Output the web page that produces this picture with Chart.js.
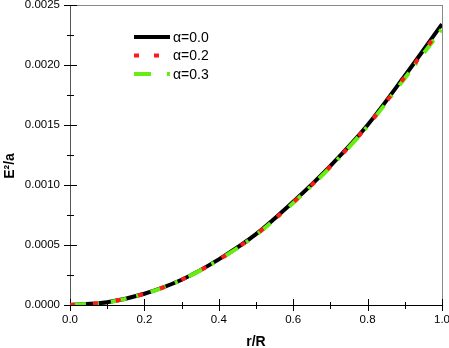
<!DOCTYPE html>
<html>
<head>
<meta charset="utf-8">
<script src="https://cdn.jsdelivr.net/npm/chart.js@4.4.0/dist/chart.umd.min.js"></script>
<style>
  html, body { margin: 0; padding: 0; background: #fff; }
  #wrap { width: 449px; height: 348px; }
</style>
</head>
<body>
<div id="wrap"><canvas id="c"></canvas></div>
<script>
// values
const rOverR = [0, 0.1, 0.2, 0.3, 0.4, 0.5, 0.6, 0.7, 0.8, 0.9, 1.0];
const alpha00 = [0, 0.000023, 0.000094, 0.00021, 0.00038, 0.00059, 0.00086, 0.00116, 0.00150, 0.00191, 0.00234];
const alpha02 = [0, 0.000023, 0.000094, 0.00021, 0.000378, 0.000587, 0.000855, 0.001155, 0.001495, 0.0019, 0.00232];
const alpha03 = [0, 0.000023, 0.000093, 0.00021, 0.000376, 0.000584, 0.00085, 0.00115, 0.00149, 0.00189, 0.0023];
const seriesLabels = ['\u03b1=0.0', '\u03b1=0.2', '\u03b1=0.3'];

const xMajor = [0, 0.2, 0.4, 0.6, 0.8, 1.0];
const xMinor = [0.1, 0.3, 0.5, 0.7, 0.9];
const yMajor = [0, 0.0005, 0.001, 0.0015, 0.002, 0.0025];
const yMinor = [0.00025, 0.00075, 0.00125, 0.00175, 0.00225];

const pts = ys => rOverR.map((x, i) => ({ x: x, y: ys[i] }));

// frame, crossing tick marks, axis titles
const framePlugin = {
    id: 'frame',
    beforeDatasetsDraw(chart) {
        const ctx = chart.ctx;
        const a = chart.chartArea;
        const xs = chart.scales.x, ys = chart.scales.y;
        ctx.save();
        ctx.lineWidth = 1;
        ctx.strokeStyle = '#888';
        ctx.strokeRect(a.left + 0.5, a.top + 0.5, a.right - a.left, a.bottom - a.top);
        ctx.strokeStyle = '#555';
        ctx.beginPath();
        ctx.moveTo(a.left + 0.5, a.top);
        ctx.lineTo(a.left + 0.5, a.bottom);
        ctx.stroke();
        ctx.strokeStyle = '#000';
        ctx.beginPath();
        ctx.moveTo(a.left, a.bottom + 0.5);
        ctx.lineTo(a.right + 1, a.bottom + 0.5);
        ctx.stroke();

        ctx.strokeStyle = '#000';
        ctx.beginPath();
        yMajor.forEach(v => {
            const p = Math.round(ys.getPixelForValue(v)) + 0.5;
            ctx.moveTo(a.left - 6, p); ctx.lineTo(a.left + 7, p);
        });
        yMinor.forEach(v => {
            const p = Math.round(ys.getPixelForValue(v)) + 0.5;
            ctx.moveTo(a.left - 3, p); ctx.lineTo(a.left + 4, p);
        });
        xMajor.forEach(v => {
            const p = Math.round(xs.getPixelForValue(v)) + 0.5;
            ctx.moveTo(p, a.bottom - 6); ctx.lineTo(p, a.bottom + 6);
        });
        xMinor.forEach(v => {
            const p = Math.round(xs.getPixelForValue(v)) + 0.5;
            ctx.moveTo(p, a.bottom - 3); ctx.lineTo(p, a.bottom + 4);
        });
        ctx.stroke();

        ctx.fillStyle = '#000';
        ctx.font = 'bold 14px "Liberation Sans", Arial, sans-serif';
        ctx.textAlign = 'center';
        ctx.textBaseline = 'middle';
        ctx.fillText('r/R', (a.left + a.right) / 2, 342);
        ctx.translate(10, 166);
        ctx.rotate(-Math.PI / 2);
        ctx.fillText('E\u00b2/a', 0, 0);
        ctx.restore();
    },
    afterDatasetsDraw(chart) {
        // legend inside the plot
        const ctx = chart.ctx;
        const rows = [37, 55.5, 74];
        ctx.save();
        chart.data.datasets.forEach((ds, i) => {
            ctx.strokeStyle = ds.borderColor;
            ctx.lineWidth = ds.borderWidth;
            ctx.setLineDash(ds.legendDash || []);
            ctx.beginPath();
            ctx.moveTo(134, rows[i]);
            ctx.lineTo(170, rows[i]);
            ctx.stroke();
            ctx.setLineDash([]);
            ctx.fillStyle = '#000';
            ctx.font = '14px "Liberation Sans", Arial, sans-serif';
            ctx.textAlign = 'left';
            ctx.textBaseline = 'middle';
            ctx.fillText(seriesLabels[i], 173, rows[i] + 1);
        });
        ctx.restore();
    }
};

new Chart(document.getElementById('c'), {
    type: 'line',
    data: {
        datasets: [
            {
                label: seriesLabels[0],
                data: pts(alpha00),
                borderColor: '#000000',
                borderWidth: 4,
                order: 3
            },
            {
                label: seriesLabels[1],
                data: pts(alpha02),
                borderColor: '#ff1a1a',
                borderWidth: 4,
                borderDash: [5, 18],
                legendDash: [5, 15],
                order: 1
            },
            {
                label: seriesLabels[2],
                data: pts(alpha03),
                borderColor: '#66ee11',
                borderWidth: 4,
                borderDash: [16, 10, 3, 12],
                legendDash: [17, 16, 3, 16],
                order: 2
            }
        ]
    },
    options: {
        responsive: true,
        maintainAspectRatio: false,
        animation: false,
        layout: { padding: { top: 5, right: 7, left: 0, bottom: 0 } },
        elements: {
            point: { radius: 0 },
            line: { cubicInterpolationMode: 'monotone', fill: false }
        },
        plugins: {
            legend: { display: false },
            tooltip: { enabled: false }
        },
        scales: {
            x: {
                type: 'linear',
                min: 0,
                max: 1,
                afterFit: s => { s.height = 43; s.paddingRight = 0; s.paddingLeft = 0; },
                afterBuildTicks: s => { s.ticks = xMajor.map(v => ({ value: v })); },
                grid: { display: false, drawTicks: false },
                border: { display: false },
                ticks: {
                    padding: 8,
                    color: '#000',
                    font: { family: '"Liberation Sans", Arial, sans-serif', size: 11.5 },
                    callback: v => v.toFixed(1)
                }
            },
            y: {
                min: 0,
                max: 0.0025,
                afterFit: s => { s.width = 70; s.paddingTop = 0; s.paddingBottom = 0; },
                afterBuildTicks: s => { s.ticks = yMajor.map(v => ({ value: v })); },
                grid: { display: false, drawTicks: false },
                border: { display: false },
                ticks: {
                    padding: 10,
                    color: '#000',
                    font: { family: '"Liberation Sans", Arial, sans-serif', size: 11.5 },
                    callback: v => v.toFixed(4)
                }
            }
        }
    },
    plugins: [framePlugin]
});
</script>
</body>
</html>
